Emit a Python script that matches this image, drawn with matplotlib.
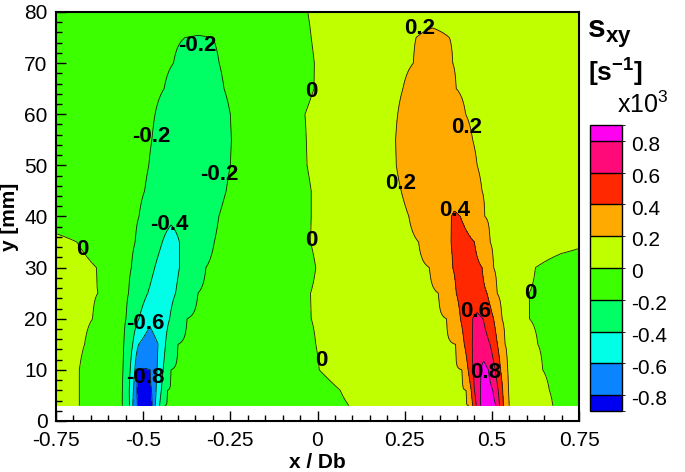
import numpy as np
import matplotlib.pyplot as plt
from matplotlib.colors import ListedColormap, BoundaryNorm
from matplotlib.cm import ScalarMappable
from matplotlib.ticker import MultipleLocator

plt.rcParams['font.family'] = ['Liberation Sans', 'DejaVu Sans']
plt.rcParams['axes.unicode_minus'] = False
plt.rcParams['mathtext.fontset'] = 'custom'
plt.rcParams['mathtext.rm'] = 'Liberation Sans'
plt.rcParams['mathtext.bf'] = 'Liberation Sans:bold'

# s_xy field (x10^3 1/s):
# for each height y [mm], a list of (x/Db, value) knots
row_y = [3, 6, 10, 15, 20, 25, 30, 35, 40, 45, 50, 55, 60, 65, 70, 75, 80]
row_knots = [
    [(-0.75, 0.08), (-0.683, 0.0), (-0.62, -0.1), (-0.56, -0.2), (-0.539, -0.4), (-0.53, -0.6),
     (-0.517, -0.8), (-0.497, -0.92), (-0.474, -0.8), (-0.465, -0.6), (-0.453, -0.4), (-0.439, -0.2),
     (-0.3, -0.12), (-0.1, -0.08), (0.09, 0.0), (0.25, 0.1), (0.434, 0.2), (0.445, 0.4), (0.455, 0.6),
     (0.467, 0.8), (0.49, 0.95), (0.512, 0.8), (0.522, 0.6), (0.533, 0.4), (0.549, 0.2), (0.61, 0.1),
     (0.675, 0.0), (0.75, -0.08)],
    [(-0.75, 0.08), (-0.683, 0.0), (-0.62, -0.1), (-0.559, -0.2), (-0.54, -0.4), (-0.528, -0.6),
     (-0.518, -0.8), (-0.497, -0.88), (-0.476, -0.8), (-0.463, -0.6), (-0.448, -0.4), (-0.43, -0.2),
     (-0.3, -0.12), (-0.1, -0.08), (0.065, 0.0), (0.25, 0.1), (0.426, 0.2), (0.441, 0.4), (0.45, 0.6),
     (0.467, 0.8), (0.484, 0.9), (0.503, 0.8), (0.518, 0.6), (0.531, 0.4), (0.548, 0.2), (0.6, 0.1),
     (0.665, 0.0), (0.75, -0.08)],
    [(-0.75, 0.08), (-0.683, 0.0), (-0.62, -0.1), (-0.558, -0.2), (-0.537, -0.4), (-0.524, -0.6),
     (-0.516, -0.8), (-0.498, -0.81), (-0.48, -0.8), (-0.46, -0.6), (-0.443, -0.4), (-0.42, -0.2),
     (-0.3, -0.12), (-0.1, -0.08), (0.005, 0.0), (0.2, 0.1), (0.415, 0.2), (0.432, 0.4), (0.445, 0.6),
     (0.469, 0.8), (0.477, 0.86), (0.49, 0.8), (0.51, 0.6), (0.525, 0.4), (0.545, 0.2), (0.59, 0.1),
     (0.646, 0.0), (0.75, -0.08)],
    [(-0.75, 0.08), (-0.668, 0.0), (-0.61, -0.1), (-0.555, -0.2), (-0.53, -0.4), (-0.513, -0.6),
     (-0.485, -0.7), (-0.457, -0.6), (-0.436, -0.4), (-0.40, -0.2), (-0.3, -0.13), (-0.1, -0.08),
     (-0.005, 0.0), (0.2, 0.1), (0.396, 0.2), (0.421, 0.4), (0.444, 0.6), (0.47, 0.72), (0.495, 0.6),
     (0.516, 0.4), (0.538, 0.2), (0.58, 0.1), (0.632, 0.0), (0.75, -0.08)],
    [(-0.75, 0.08), (-0.645, 0.0), (-0.6, -0.1), (-0.549, -0.2), (-0.512, -0.4), (-0.48, -0.56),
     (-0.424, -0.4), (-0.374, -0.2), (-0.25, -0.12), (-0.1, -0.07), (-0.018, 0.0), (0.2, 0.1),
     (0.37, 0.2), (0.41, 0.4), (0.445, 0.6), (0.458, 0.64), (0.475, 0.6), (0.505, 0.4), (0.529, 0.2),
     (0.57, 0.1), (0.608, 0.0), (0.75, -0.1)],
    [(-0.75, 0.08), (-0.63, 0.0), (-0.59, -0.1), (-0.542, -0.2), (-0.487, -0.4), (-0.45, -0.5),
     (-0.407, -0.4), (-0.343, -0.2), (-0.25, -0.12), (-0.1, -0.07), (-0.02, 0.0), (0.2, 0.1),
     (0.347, 0.2), (0.398, 0.4), (0.44, 0.52), (0.486, 0.4), (0.515, 0.2), (0.56, 0.1), (0.607, 0.0),
     (0.75, -0.1)],
    [(-0.75, 0.08), (-0.634, 0.0), (-0.59, -0.1), (-0.534, -0.2), (-0.467, -0.4), (-0.43, -0.5),
     (-0.396, -0.4), (-0.32, -0.2), (-0.25, -0.13), (-0.1, -0.07), (-0.005, 0.0), (0.15, 0.1),
     (0.321, 0.2), (0.388, 0.4), (0.43, 0.48), (0.472, 0.4), (0.505, 0.2), (0.56, 0.1), (0.625, 0.0),
     (0.7, -0.05), (0.75, -0.06)],
    [(-0.75, 0.03), (-0.69, 0.0), (-0.6, -0.08), (-0.523, -0.2), (-0.445, -0.4), (-0.42, -0.5),
     (-0.396, -0.4), (-0.296, -0.2), (-0.2, -0.12), (-0.1, -0.07), (-0.02, 0.0), (0.15, 0.1),
     (0.29, 0.2), (0.383, 0.4), (0.415, 0.46), (0.45, 0.4), (0.495, 0.2), (0.56, 0.1), (0.65, 0.06),
     (0.75, 0.02)],
    [(-0.75, -0.06), (-0.6, -0.1), (-0.512, -0.2), (-0.42, -0.35), (-0.283, -0.2), (-0.2, -0.12),
     (-0.1, -0.07), (-0.018, 0.0), (0.15, 0.1), (0.262, 0.2), (0.384, 0.4), (0.393, 0.43),
     (0.41, 0.4), (0.48, 0.2), (0.6, 0.1), (0.75, 0.08)],
    [(-0.75, -0.06), (-0.6, -0.1), (-0.496, -0.2), (-0.38, -0.32), (-0.262, -0.2), (-0.2, -0.13),
     (-0.1, -0.07), (-0.018, 0.0), (0.12, 0.1), (0.24, 0.2), (0.36, 0.33), (0.472, 0.2), (0.6, 0.1),
     (0.75, 0.08)],
    [(-0.75, -0.06), (-0.6, -0.1), (-0.484, -0.2), (-0.37, -0.32), (-0.25, -0.2), (-0.18, -0.13),
     (-0.1, -0.07), (-0.03, 0.0), (0.1, 0.1), (0.226, 0.2), (0.34, 0.32), (0.458, 0.2), (0.6, 0.1),
     (0.75, 0.08)],
    [(-0.75, -0.06), (-0.6, -0.1), (-0.475, -0.2), (-0.36, -0.32), (-0.247, -0.2), (-0.18, -0.13),
     (-0.1, -0.07), (-0.032, 0.0), (0.1, 0.1), (0.224, 0.2), (0.33, 0.32), (0.445, 0.2), (0.6, 0.1),
     (0.75, 0.08)],
    [(-0.75, -0.06), (-0.6, -0.1), (-0.466, -0.2), (-0.36, -0.32), (-0.25, -0.2), (-0.18, -0.13),
     (-0.1, -0.07), (-0.036, 0.0), (0.1, 0.1), (0.23, 0.2), (0.33, 0.32), (0.425, 0.2), (0.6, 0.1),
     (0.75, 0.08)],
    [(-0.75, -0.06), (-0.6, -0.1), (-0.44, -0.2), (-0.35, -0.3), (-0.268, -0.2), (-0.18, -0.13),
     (-0.1, -0.07), (-0.01, 0.0), (0.12, 0.1), (0.245, 0.2), (0.32, 0.3), (0.398, 0.2), (0.6, 0.1),
     (0.75, 0.08)],
    [(-0.75, -0.06), (-0.6, -0.1), (-0.413, -0.2), (-0.35, -0.28), (-0.282, -0.2), (-0.2, -0.13),
     (-0.1, -0.07), (-0.009, 0.0), (0.12, 0.1), (0.275, 0.2), (0.33, 0.28), (0.388, 0.2), (0.6, 0.1),
     (0.75, 0.08)],
    [(-0.75, -0.06), (-0.6, -0.1), (-0.38, -0.2), (-0.34, -0.205), (-0.30, -0.2), (-0.2, -0.13),
     (-0.1, -0.07), (-0.018, 0.0), (0.12, 0.1), (0.283, 0.2), (0.33, 0.26), (0.378, 0.2), (0.6, 0.1),
     (0.75, 0.08)],
    [(-0.75, -0.06), (-0.6, -0.1), (-0.35, -0.15), (-0.1, -0.07), (-0.028, 0.0), (0.12, 0.1),
     (0.33, 0.1), (0.75, 0.08)],
]

levels = [-1.0, -0.8, -0.6, -0.4, -0.2, 0.0, 0.2, 0.4, 0.6, 0.8, 1.0]
level_colors = ['#0000F0', '#0A84FF', '#00FFE6', '#00FF64', '#3CFF00',
                '#C0FF00', '#FFAA00', '#FF2800', '#FF0A78', '#FF00F0']
cbar_ticks = [-0.8, -0.6, -0.4, -0.2, 0.0, 0.2, 0.4, 0.6, 0.8]
cbar_labels = ['-0.8', '-0.6', '-0.4', '-0.2', '0', '0.2', '0.4', '0.6', '0.8']

# contour label texts as placed in the picture
contour_labels = [
    (-0.346, 73.4, '-0.2'), (-0.476, 55.7, '-0.2'), (-0.281, 48.3, '-0.2'),
    (-0.424, 38.4, '-0.4'), (-0.493, 19.1, '-0.6'), (-0.493, 8.5, '-0.8'),
    (-0.674, 33.5, '0'), (-0.017, 64.5, '0'), (-0.019, 35.4, '0'), (0.01, 11.9, '0'),
    (0.611, 24.9, '0'), (0.293, 76.8, '0.2'), (0.429, 57.4, '0.2'), (0.238, 46.4, '0.2'),
    (0.393, 41.1, '0.4'), (0.453, 21.5, '0.6'), (0.483, 9.5, '0.8'),
]

x_fine = np.linspace(-0.75, 0.75, 751)
Z = np.array([np.interp(x_fine, [k[0] for k in r], [k[1] for k in r]) for r in row_knots])

fig = plt.figure(figsize=(6.85, 4.72), dpi=100)
ax = fig.add_axes([56 / 685, 1 - 421 / 472, 523 / 685, 409 / 472])

ax.contourf(x_fine, row_y, Z, levels=levels, colors=level_colors)
ax.contour(x_fine, row_y, Z, levels=levels[1:-1], colors='#102010',
           linewidths=0.6, linestyles='solid')

for x, y, s in contour_labels:
    ax.text(x, y, s, ha='center', va='center', fontsize=16, fontweight='bold')

ax.set_xlim(-0.75, 0.75)
ax.set_ylim(0, 80)
ax.set_xticks([-0.75, -0.5, -0.25, 0, 0.25, 0.5, 0.75])
ax.set_xticklabels(['-0.75', '-0.5', '-0.25', '0', '0.25', '0.5', '0.75'])
ax.set_yticks(range(0, 81, 10))
ax.xaxis.set_minor_locator(MultipleLocator(0.05))
ax.yaxis.set_minor_locator(MultipleLocator(2))
ax.tick_params(which='both', direction='in', top=False, right=False, width=1)
ax.tick_params(which='major', length=7.5, labelsize=15, pad=6)
ax.tick_params(axis='x', which='major', pad=7.5)
ax.tick_params(which='minor', length=4.5)
for sp in ax.spines.values():
    sp.set_linewidth(1.5)

ax.set_xlabel('x / Db', fontsize=15, fontweight='bold', labelpad=2)
ax.set_ylabel('y [mm]', fontsize=15, fontweight='bold')
ax.yaxis.set_label_coords(-0.071, 0.5)

# legend bar
cax = fig.add_axes([590 / 685, 1 - 411 / 472, 32 / 685, 286 / 472])
bounds_cb = [-0.9] + cbar_ticks + [0.9]
sm = ScalarMappable(norm=BoundaryNorm(bounds_cb, len(level_colors)), cmap=ListedColormap(level_colors))
cb = fig.colorbar(sm, cax=cax, ticks=[], spacing='proportional', drawedges=True)
cb.outline.set_linewidth(1)
cb.dividers.set_linewidth(1)
for v, s in zip(cbar_ticks, cbar_labels):
    cax.text(1.3, v - 0.03, s, transform=cax.get_yaxis_transform(),
             ha='left', va='center', fontsize=15)

fig.text(587 / 685, 1 - 38 / 472, r'$\mathbf{s_{xy}}$', fontsize=23, va='baseline')
fig.text(588 / 685, 1 - 82 / 472, r'$\mathbf{[s^{-1}]}$', fontsize=19, va='baseline')
fig.text(617 / 685, 1 - 113 / 472, r'x10$^3$', fontsize=18, va='baseline')

fig.savefig('out.png', dpi=100)
